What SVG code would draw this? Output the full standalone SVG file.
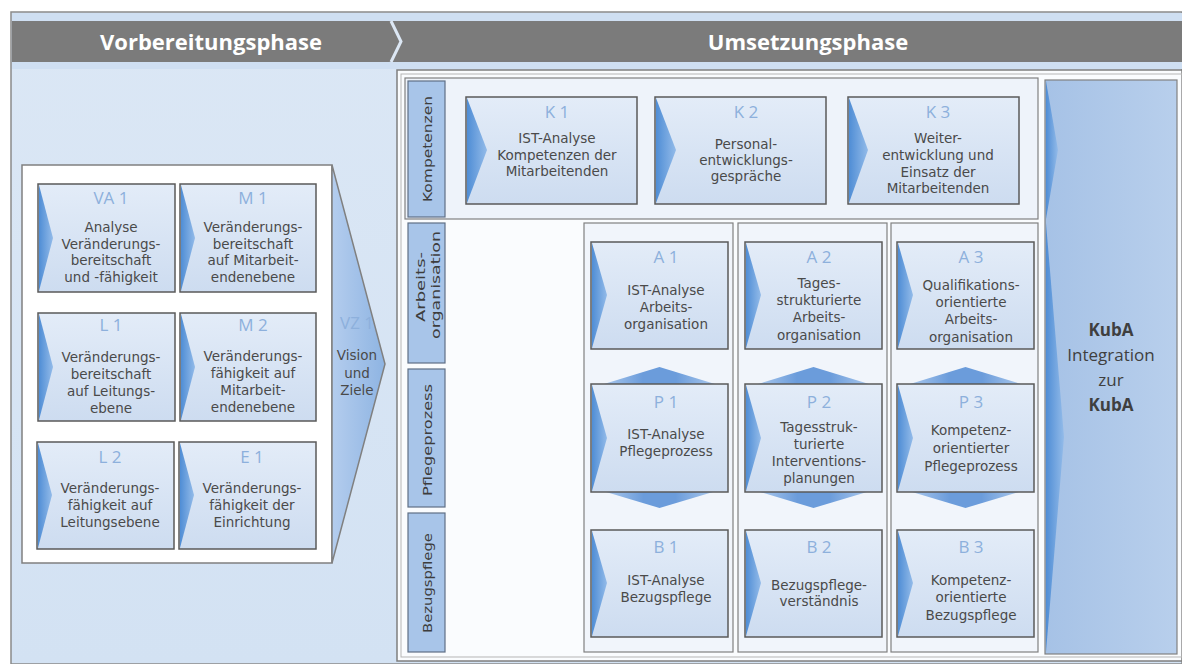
<svg xmlns="http://www.w3.org/2000/svg" width="1182" height="664" viewBox="0 0 1182 664">
  <defs>
    <linearGradient id="boxFill" x1="0" y1="0" x2="0" y2="1">
      <stop offset="0" stop-color="#e3ecf8"/>
      <stop offset="1" stop-color="#cddcf0"/>
    </linearGradient>
    <linearGradient id="notchFill" x1="0" y1="0" x2="1" y2="0">
      <stop offset="0" stop-color="#4f8dd5"/>
      <stop offset="1" stop-color="#93bbe9"/>
    </linearGradient>
    <linearGradient id="hexFill" x1="0" y1="0" x2="1" y2="0">
      <stop offset="0" stop-color="#a9c7ec"/>
      <stop offset="0.35" stop-color="#6b9cdb"/>
      <stop offset="0.65" stop-color="#6b9cdb"/>
      <stop offset="1" stop-color="#a9c7ec"/>
    </linearGradient>
    <linearGradient id="kubaFill" x1="0" y1="0" x2="1" y2="0">
      <stop offset="0" stop-color="#a6c2e6"/>
      <stop offset="1" stop-color="#b8cfec"/>
    </linearGradient>
    <linearGradient id="chevFill" x1="0" y1="0" x2="1" y2="0">
      <stop offset="0" stop-color="#b4cdee"/>
      <stop offset="1" stop-color="#8eb4e2"/>
    </linearGradient>
    <linearGradient id="leftBg" x1="0" y1="0" x2="0" y2="1">
      <stop offset="0" stop-color="#dbe7f5"/>
      <stop offset="1" stop-color="#d3e2f3"/>
    </linearGradient>
    <style>
      .box { fill: url(#boxFill); stroke: #5a5a5a; stroke-width: 1.5; }
      .notch { fill: url(#notchFill); }
      .hex { fill: url(#hexFill); }
      .frame { fill: #f1f5fb; stroke: #808080; stroke-width: 1.2; }
      .lbl { fill: #a8c5e9; stroke: #5f6f85; stroke-width: 1.2; }
      .code { font-family: "Open Sans", "Liberation Sans", sans-serif; font-size: 17px; fill: #8db0dc; text-anchor: middle; }
      .t { font-family: "DejaVu Sans", "Liberation Sans", sans-serif; font-size: 13.5px; fill: #4a4a4a; text-anchor: middle; }
      .side { font-family: "DejaVu Sans", "Liberation Sans", sans-serif; font-size: 12.8px; fill: #3d3d3d; text-anchor: middle; }
      .head { font-family: "Open Sans", "Liberation Sans", sans-serif; font-size: 22px; font-weight: bold; fill: #ffffff; text-anchor: middle; }
      .kuba { font-family: "Open Sans", "Liberation Sans", sans-serif; font-size: 17px; fill: #3f3f3f; text-anchor: middle; }
    </style>
  </defs>

  <!-- page frame and backgrounds -->
  <rect x="0" y="0" width="1182" height="664" fill="#ffffff"/>
  <rect x="11" y="12" width="1171" height="652" fill="url(#leftBg)" stroke="#8a8a8a" stroke-width="1.5"/>

  <!-- phase header -->
  <g id="header">
    <rect x="12" y="13" width="1170" height="56" fill="#cfdff2"/>
    <rect x="12" y="21" width="1170" height="41" fill="#7b7b7b"/>
    <path d="M391,21 L401,41.5 L391,62" fill="none" stroke="#dce7f4" stroke-width="3"/>
    <text class="head" x="211" y="50">Vorbereitungsphase</text>
    <text class="head" x="808" y="50">Umsetzungsphase</text>
  </g>

  <!-- preparation phase -->
  <g id="vorbereitung">
    <path d="M332,165 L22,165 L22,563 L332,563 Z" fill="#ffffff" stroke="#808080" stroke-width="1.5"/>
    <polygon points="332,165 385,364 332,563" fill="url(#chevFill)" stroke="#808080" stroke-width="1.5"/>
  </g>

  <g id="VA1">
    <rect class="box" x="38" y="184" width="137" height="108"/>
    <polygon class="notch" points="39,185 53,238 39,291"/>
    <text class="code" x="111" y="204">VA 1</text>
    <text class="t" x="111" y="232">Analyse</text>
    <text class="t" x="111" y="249">Veränderungs-</text>
    <text class="t" x="111" y="265">bereitschaft</text>
    <text class="t" x="111" y="282">und -fähigkeit</text>
  </g>
  <g id="M1">
    <rect class="box" x="180" y="184" width="136" height="108"/>
    <polygon class="notch" points="181,185 195,238 181,291"/>
    <text class="code" x="253" y="204">M 1</text>
    <text class="t" x="253" y="232">Veränderungs-</text>
    <text class="t" x="253" y="249">bereitschaft</text>
    <text class="t" x="253" y="265">auf Mitarbeit-</text>
    <text class="t" x="253" y="282">endenebene</text>
  </g>
  <g id="L1">
    <rect class="box" x="38" y="313" width="137" height="108"/>
    <polygon class="notch" points="39,314 53,367 39,420"/>
    <text class="code" x="111" y="331">L 1</text>
    <text class="t" x="111" y="362">Veränderungs-</text>
    <text class="t" x="111" y="379">bereitschaft</text>
    <text class="t" x="111" y="396">auf Leitungs-</text>
    <text class="t" x="111" y="413">ebene</text>
  </g>
  <g id="M2">
    <rect class="box" x="180" y="313" width="136" height="108"/>
    <polygon class="notch" points="181,314 195,367 181,420"/>
    <text class="code" x="253" y="331">M 2</text>
    <text class="t" x="253" y="361">Veränderungs-</text>
    <text class="t" x="253" y="378">fähigkeit auf</text>
    <text class="t" x="253" y="395">Mitarbeit-</text>
    <text class="t" x="253" y="412">endenebene</text>
  </g>
  <g id="L2">
    <rect class="box" x="37" y="442" width="137" height="107"/>
    <polygon class="notch" points="38,443 52,495 38,548"/>
    <text class="code" x="110" y="463">L 2</text>
    <text class="t" x="110" y="493">Veränderungs-</text>
    <text class="t" x="110" y="510">fähigkeit auf</text>
    <text class="t" x="110" y="527">Leitungsebene</text>
  </g>
  <g id="E1">
    <rect class="box" x="179" y="442" width="137" height="107"/>
    <polygon class="notch" points="180,443 194,495 180,548"/>
    <text class="code" x="252" y="463">E 1</text>
    <text class="t" x="252" y="493">Veränderungs-</text>
    <text class="t" x="252" y="510">fähigkeit der</text>
    <text class="t" x="252" y="527">Einrichtung</text>
  </g>
  <g id="VZ1">
    <text class="code" x="357" y="329">VZ 1</text>
    <text class="t" x="357" y="360">Vision</text>
    <text class="t" x="357" y="378">und</text>
    <text class="t" x="357" y="395">Ziele</text>
  </g>

  <!-- implementation phase panel -->
  <g id="umsetzung">
    <rect x="397" y="70" width="785" height="591" fill="#fafcfe" stroke="#7f7f7f" stroke-width="1.5"/>
    <rect x="401" y="74" width="781" height="583" fill="none" stroke="#b5b5b5" stroke-width="1"/>
    <rect x="405" y="78" width="633" height="141" fill="#eef3fa" stroke="#808080" stroke-width="1.2"/>
    <rect class="frame" x="584" y="223" width="149" height="429"/>
    <rect class="frame" x="738" y="223" width="149" height="429"/>
    <rect class="frame" x="891" y="223" width="147" height="429"/>
  </g>

  <!-- row labels -->
  <g id="label-kompetenzen">
    <rect class="lbl" x="408" y="81" width="37" height="136"/>
    <text class="side" transform="translate(427,149) rotate(-90)" x="0" y="5" textLength="106" lengthAdjust="spacingAndGlyphs">Kompetenzen</text>
  </g>
  <g id="label-arbeitsorganisation">
    <rect class="lbl" x="408" y="223" width="37" height="140"/>
    <text class="side" transform="translate(427,287) rotate(-90)" x="0" y="-2" textLength="70" lengthAdjust="spacingAndGlyphs">Arbeits-</text>
    <text class="side" transform="translate(427,285) rotate(-90)" x="0" y="13" textLength="108" lengthAdjust="spacingAndGlyphs">organisation</text>
  </g>
  <g id="label-pflegeprozess">
    <rect class="lbl" x="408" y="369" width="37" height="138"/>
    <text class="side" transform="translate(427,440) rotate(-90)" x="0" y="5" textLength="112" lengthAdjust="spacingAndGlyphs">Pflegeprozess</text>
  </g>
  <g id="label-bezugspflege">
    <rect class="lbl" x="408" y="513" width="37" height="139"/>
    <text class="side" transform="translate(427,583) rotate(-90)" x="0" y="5" textLength="100" lengthAdjust="spacingAndGlyphs">Bezugspflege</text>
  </g>

  <!-- competence row -->
  <g id="K1">
    <rect class="box" x="466" y="97" width="171" height="107"/>
    <polygon class="notch" points="467,98 487,150 467,203"/>
    <text class="code" x="557" y="118">K 1</text>
    <text class="t" x="557" y="143">IST-Analyse</text>
    <text class="t" x="557" y="160">Kompetenzen der</text>
    <text class="t" x="557" y="176">Mitarbeitenden</text>
  </g>
  <g id="K2">
    <rect class="box" x="655" y="97" width="171" height="107"/>
    <polygon class="notch" points="656,98 676,150 656,203"/>
    <text class="code" x="746" y="118">K 2</text>
    <text class="t" x="746" y="149">Personal-</text>
    <text class="t" x="746" y="165">entwicklungs-</text>
    <text class="t" x="746" y="181">gespräche</text>
  </g>
  <g id="K3">
    <rect class="box" x="848" y="97" width="171" height="107"/>
    <polygon class="notch" points="849,98 868,150 849,203"/>
    <text class="code" x="938" y="118">K 3</text>
    <text class="t" x="938" y="143">Weiter-</text>
    <text class="t" x="938" y="160">entwicklung und</text>
    <text class="t" x="938" y="177">Einsatz der</text>
    <text class="t" x="938" y="193">Mitarbeitenden</text>
  </g>

  <!-- integration column -->
  <g id="KubA">
    <rect x="1045" y="80" width="132" height="574" fill="url(#kubaFill)" stroke="#808080" stroke-width="1.2"/>
    <polygon class="notch" points="1046,81 1058,150 1046,219"/>
    <polygon class="notch" points="1046,223 1064,437 1046,652"/>
    <text class="kuba" x="1111" y="336" font-weight="bold">KubA</text>
    <text class="kuba" x="1111" y="361">Integration</text>
    <text class="kuba" x="1111" y="386">zur</text>
    <text class="kuba" x="1111" y="411" font-weight="bold">KubA</text>
  </g>

  <!-- links between work organisation, care process and primary nursing -->
  <g id="connectors">
    <polygon class="hex" points="604,384 659.5,367 715,384"/>
    <polygon class="hex" points="606,492 659.5,508 713,492"/>
    <polygon class="hex" points="758,384 813.5,367 869,384"/>
    <polygon class="hex" points="760,492 813.5,508 867,492"/>
    <polygon class="hex" points="910,384 965.5,367 1021,384"/>
    <polygon class="hex" points="912,492 965.5,508 1019,492"/>
  </g>

  <!-- work organisation row -->
  <g id="A1">
    <rect class="box" x="591" y="242" width="137" height="107"/>
    <polygon class="notch" points="592,243 607,295 592,348"/>
    <text class="code" x="666" y="263">A 1</text>
    <text class="t" x="666" y="295">IST-Analyse</text>
    <text class="t" x="666" y="312">Arbeits-</text>
    <text class="t" x="666" y="329">organisation</text>
  </g>
  <g id="A2">
    <rect class="box" x="745" y="242" width="137" height="107"/>
    <polygon class="notch" points="746,243 761,295 746,348"/>
    <text class="code" x="819" y="263">A 2</text>
    <text class="t" x="819" y="288">Tages-</text>
    <text class="t" x="819" y="305">strukturierte</text>
    <text class="t" x="819" y="322">Arbeits-</text>
    <text class="t" x="819" y="340">organisation</text>
  </g>
  <g id="A3">
    <rect class="box" x="897" y="242" width="137" height="107"/>
    <polygon class="notch" points="898,243 913,295 898,348"/>
    <text class="code" x="971" y="263">A 3</text>
    <text class="t" x="971" y="290">Qualifikations-</text>
    <text class="t" x="971" y="307">orientierte</text>
    <text class="t" x="971" y="324">Arbeits-</text>
    <text class="t" x="971" y="342">organisation</text>
  </g>

  <!-- care process row -->
  <g id="P1">
    <rect class="box" x="591" y="384" width="137" height="108"/>
    <polygon class="notch" points="592,385 607,438 592,491"/>
    <text class="code" x="666" y="408">P 1</text>
    <text class="t" x="666" y="439">IST-Analyse</text>
    <text class="t" x="666" y="456">Pflegeprozess</text>
  </g>
  <g id="P2">
    <rect class="box" x="745" y="384" width="137" height="108"/>
    <polygon class="notch" points="746,385 761,438 746,491"/>
    <text class="code" x="819" y="408">P 2</text>
    <text class="t" x="819" y="432">Tagesstruk-</text>
    <text class="t" x="819" y="449">turierte</text>
    <text class="t" x="819" y="466">Interventions-</text>
    <text class="t" x="819" y="483">planungen</text>
  </g>
  <g id="P3">
    <rect class="box" x="897" y="384" width="137" height="108"/>
    <polygon class="notch" points="898,385 913,438 898,491"/>
    <text class="code" x="971" y="408">P 3</text>
    <text class="t" x="971" y="435">Kompetenz-</text>
    <text class="t" x="971" y="453">orientierter</text>
    <text class="t" x="971" y="471">Pflegeprozess</text>
  </g>

  <!-- primary nursing row -->
  <g id="B1">
    <rect class="box" x="591" y="530" width="137" height="107"/>
    <polygon class="notch" points="592,531 607,583 592,636"/>
    <text class="code" x="666" y="553">B 1</text>
    <text class="t" x="666" y="585">IST-Analyse</text>
    <text class="t" x="666" y="602">Bezugspflege</text>
  </g>
  <g id="B2">
    <rect class="box" x="745" y="530" width="137" height="107"/>
    <polygon class="notch" points="746,531 761,583 746,636"/>
    <text class="code" x="819" y="553">B 2</text>
    <text class="t" x="819" y="590">Bezugspflege-</text>
    <text class="t" x="819" y="606">verständnis</text>
  </g>
  <g id="B3">
    <rect class="box" x="897" y="530" width="137" height="107"/>
    <polygon class="notch" points="898,531 913,583 898,636"/>
    <text class="code" x="971" y="553">B 3</text>
    <text class="t" x="971" y="585">Kompetenz-</text>
    <text class="t" x="971" y="602">orientierte</text>
    <text class="t" x="971" y="620">Bezugspflege</text>
  </g>
</svg>
